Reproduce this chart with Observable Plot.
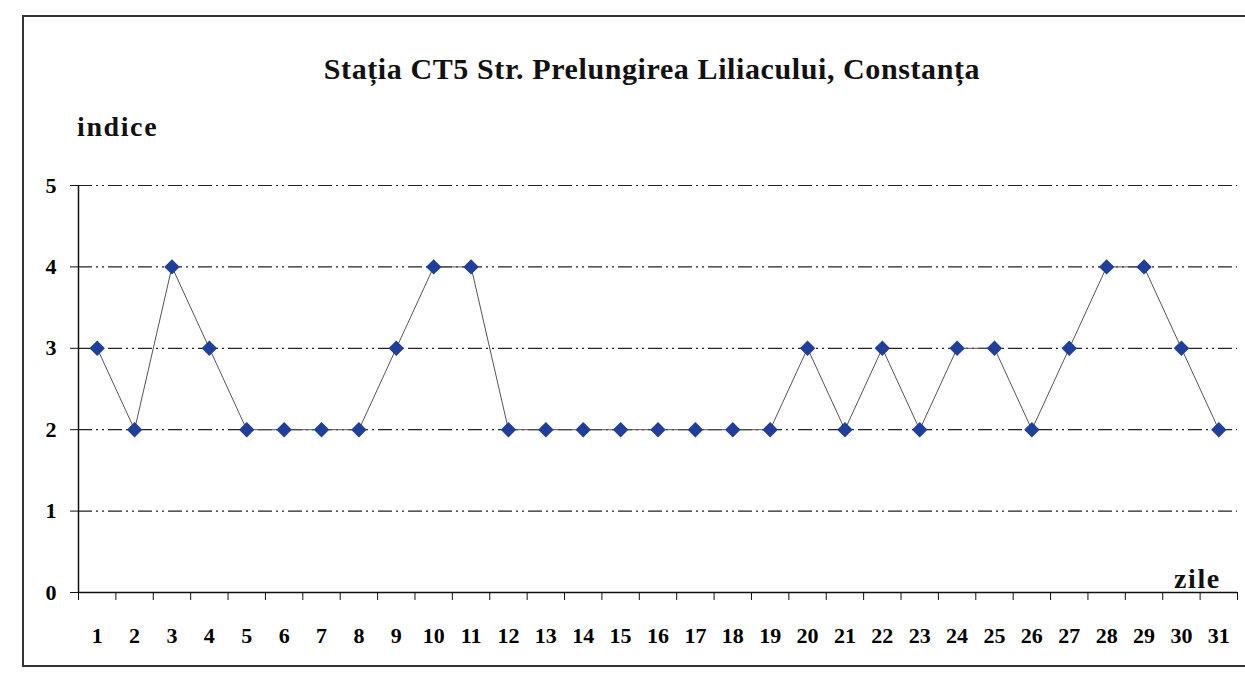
<!DOCTYPE html>
<html>
<head>
<meta charset="utf-8">
<script src="https://cdn.jsdelivr.net/npm/d3@7"></script>
<script src="https://cdn.jsdelivr.net/npm/@observablehq/plot@0.6"></script>
<style>
  html, body { margin: 0; padding: 0; background: #fff; }
  #wrap { position: relative; width: 1245px; height: 682px; overflow: hidden; font-family: "Liberation Serif", "Times New Roman", serif; }
  #frame { position: absolute; left: 22px; top: 15px; width: 1240px; height: 652px; border: 2px solid #333; box-sizing: border-box; }
  .lbl { position: absolute; font-weight: bold; color: #111; white-space: nowrap; }
  #title { left: 0; width: 1304px; text-align: center; top: 52px; font-size: 30px; letter-spacing: 0.6px; }
  #ylab { left: 77px; top: 111px; font-size: 28px; letter-spacing: 1.6px; }
  #xlab { left: 1174px; top: 563px; font-size: 28px; letter-spacing: 1.6px; }
  #chart { position: absolute; left: 0; top: 0; }
</style>
</head>
<body>
<div id="wrap">
  <div id="frame"></div>
  <div id="chart"></div>
  <div class="lbl" id="title">Stația CT5 Str. Prelungirea Liliacului, Constanța</div>
  <div class="lbl" id="ylab">indice</div>
  <div class="lbl" id="xlab">zile</div>
</div>
<script>
const days = d3.range(1, 32);
const values = [3,2,4,3,2,2,2,2,3,4,4,2,2,2,2,2,2,2,2,3,2,3,2,3,3,2,3,4,4,3,2];
const yTicks = [0,1,2,3,4,5];
const gridLevels = [1,2,3,4,5];

const data = days.map((d, i) => ({day: d, value: values[i]}));
const boundaries = d3.range(0, 32).map(k => k + 0.5);

const plot = Plot.plot({
  width: 1245,
  height: 682,
  marginLeft: 78,
  marginRight: 8,
  marginTop: 185,
  marginBottom: 90,
  style: { background: "transparent", fontFamily: "Liberation Serif, Times New Roman, serif" },
  x: { type: "linear", domain: [0.5, 31.5] },
  y: { domain: [0, 5] },
  marks: [
    Plot.ruleY(gridLevels, { stroke: "#222", strokeWidth: 1.2, strokeDasharray: "14,4,2,4,2,4" }),
    Plot.ruleX([0.5], { y1: 0, y2: 5, stroke: "#111", strokeWidth: 1.5 }),
    Plot.ruleY([0], { stroke: "#111", strokeWidth: 1.5 }),
    Plot.axisY({ ticks: yTicks, tickSize: 8, tickPadding: 14, fontSize: 22, fontWeight: "bold", tickFormat: d => d, label: null, stroke: "#111" }),
    Plot.axisX({ ticks: boundaries, tickSize: 8, tickFormat: () => "", label: null, stroke: "#111" }),
    Plot.axisX({ ticks: days, tickSize: 0, tickPadding: 35, fontSize: 22, fontWeight: "bold", tickFormat: d => d, label: null }),
    Plot.line(data, { x: "day", y: "value", stroke: "#555", strokeWidth: 1 }),
    Plot.dot(data, { x: "day", y: "value", symbol: "diamond2", r: 6, fill: "#1f3f9a", stroke: "#1f3f9a" })
  ]
});
document.getElementById("chart").appendChild(plot);
</script>
</body>
</html>
